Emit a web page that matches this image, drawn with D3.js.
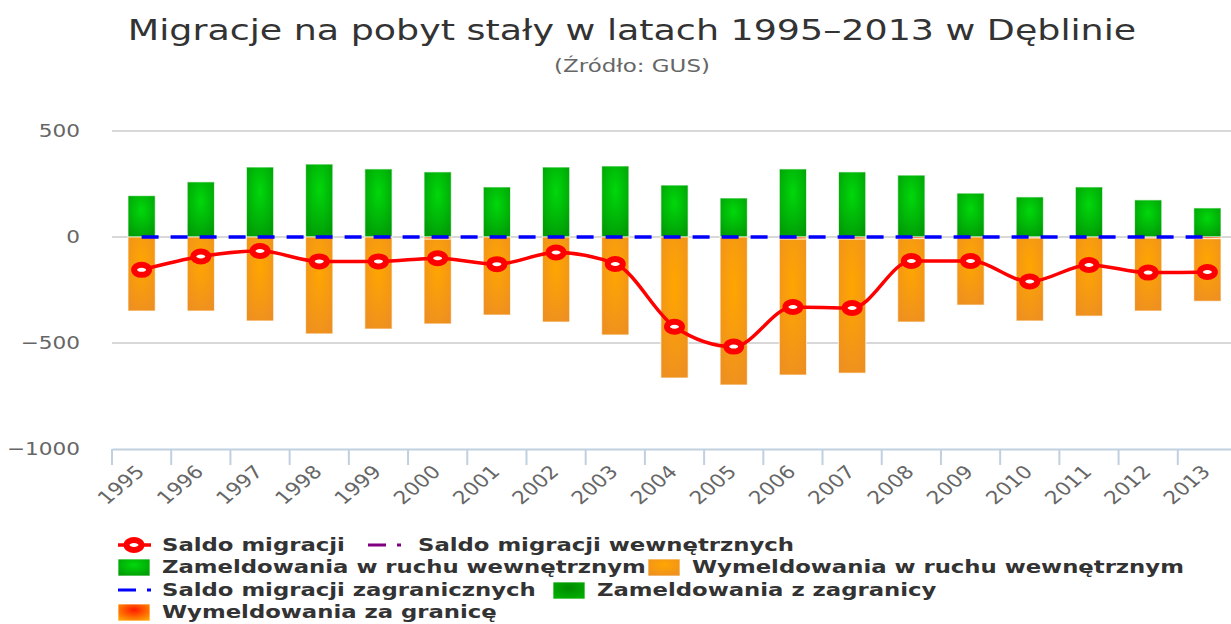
<!DOCTYPE html>
<html>
<head>
<meta charset="utf-8">
<script src="https://cdn.jsdelivr.net/npm/d3@7"></script>
<style>
  body { margin: 0; background: #fff; }
  svg { display: block; font-family: "DejaVu Sans", sans-serif; }
</style>
</head>
<body>
<div class="chart"></div>
<script>
// data
const years = ['1995','1996','1997','1998','1999','2000','2001','2002','2003','2004',
               '2005','2006','2007','2008','2009','2010','2011','2012','2013'];
const saldo = [-155,-92,-66,-115,-115,-100,-128,-73,-127,-423,-517,-330,-335,-113,-113,-210,-132,-168,-165];
const saldoWewn = [-155,-92,-66,-115,-115,-100,-128,-73,-127,-423,-517,-330,-335,-113,-113,-210,-132,-168,-165];
const zamWewn = [195,260,330,344,321,307,236,330,335,245,184,321,307,292,207,189,236,175,137];
const wymWewn = [-349,-349,-396,-457,-434,-400,-368,-401,-462,-665,-698,-641,-632,-393,-321,-391,-373,-344,-295];
const saldoZagr = [0,0,0,0,0,0,0,0,0,0,0,0,0,0,0,0,0,0,0];
const zamZagr = [0,0,0,0,0,0,0,0,0,0,0,0,0,0,0,0,0,0,0];
const wymZagr = [0,0,0,0,0,-10,0,0,0,0,0,-10,-10,-8,0,-5,0,-5,-8];
const yTicks = [500, 0, -500, -1000];

const W = 1231, H = 624;

const svg = d3.select('.chart').append('svg')
  .attr('width', W).attr('height', H);

const defs = svg.append('defs');
function radial(id, inner, outer) {
  const g = defs.append('radialGradient').attr('id', id)
    .attr('cx', '50%').attr('cy', '35%').attr('r', '70%');
  g.append('stop').attr('offset', '0%').attr('stop-color', inner);
  g.append('stop').attr('offset', '100%').attr('stop-color', outer);
}
radial('gGreen', '#00d80a', '#009c06');
radial('gOrange', '#ffa600', '#ee9020');
radial('gDark', '#008a00', '#00b000');
radial('gRed', '#ff1a00', '#ffa000');

// text stretched horizontally, like the reference picture
function label(parent, x, y, k, rot) {
  return parent.append('text')
    .attr('transform', `translate(${x},${y}) scale(${k},1)` + (rot ? ` rotate(${rot})` : ''));
}

const xScale = d3.scaleBand().domain(years).range([112, 1237]);
const yScale = d3.scaleLinear().domain([-1000, 500]).range([449, 131]);

// title
label(svg, 632, 40, 1.3)
  .attr('text-anchor', 'middle')
  .attr('font-size', 28).attr('fill', '#333')
  .text('Migracje na pobyt stały w latach 1995–2013 w Dęblinie');
label(svg, 632, 72, 1.35)
  .attr('text-anchor', 'middle')
  .attr('font-size', 17).attr('fill', '#666')
  .text('(Źródło: GUS)');

// grid
svg.append('g').selectAll('line')
  .data(yTicks.filter(d => d > -1000))
  .enter().append('line')
  .attr('x1', 112).attr('x2', W)
  .attr('y1', d => yScale(d)).attr('y2', d => yScale(d))
  .attr('stroke', '#d8d8d8').attr('stroke-width', 2);

const yLab = svg.append('g');
yTicks.forEach(t => {
  label(yLab, 80, yScale(t), 1.2)
    .attr('dy', '0.35em')
    .attr('text-anchor', 'end')
    .attr('font-size', 18).attr('fill', '#666')
    .text(d3.format('d')(t));
});

// x axis
const xAxis = d3.axisBottom(xScale).tickSize(0).tickFormat('');
svg.append('g').attr('transform', `translate(0, ${yScale(-1000)})`)
  .call(xAxis)
  .call(g => g.select('.domain').attr('stroke', '#c0d0e0').attr('stroke-width', 2));

svg.append('g').selectAll('line')
  .data(years)
  .enter().append('line')
  .attr('x1', d => xScale(d)).attr('x2', d => xScale(d))
  .attr('y1', yScale(-1000)).attr('y2', yScale(-1000) + 16)
  .attr('stroke', '#c0d0e0').attr('stroke-width', 2);

const xLab = svg.append('g');
years.forEach(y => {
  label(xLab, xScale(y) + xScale.bandwidth() / 2 + 4, 473, 1.2, -45)
    .attr('text-anchor', 'end')
    .attr('font-size', 18).attr('fill', '#666')
    .text(y);
});

// bars
const bw = xScale.bandwidth() * 0.46;
const bx = d => xScale(d) + (xScale.bandwidth() - bw) / 2;

function bars(vals, base, fill) {
  svg.append('g').selectAll('rect')
    .data(years)
    .enter().append('rect')
    .attr('x', d => bx(d))
    .attr('width', bw)
    .attr('y', (d, i) => {
      const b = base ? base[i] : 0;
      return Math.min(yScale(b), yScale(b + vals[i]));
    })
    .attr('height', (d, i) => {
      const b = base ? base[i] : 0;
      return Math.abs(yScale(b + vals[i]) - yScale(b));
    })
    .attr('fill', fill)
    .attr('stroke', 'rgba(255,255,255,0.7)').attr('stroke-width', 1);
}
bars(zamZagr, null, 'url(#gDark)');
bars(zamWewn, zamZagr, 'url(#gGreen)');
bars(wymZagr, null, 'url(#gRed)');
bars(wymWewn, wymZagr, 'url(#gOrange)');

// lines
const cx = d => xScale(d) + xScale.bandwidth() / 2;

svg.append('path')
  .datum(saldoZagr)
  .attr('fill', 'none').attr('stroke', '#0000ff').attr('stroke-width', 3.5)
  .attr('stroke-dasharray', '17,12')
  .attr('d', d3.line().x((d, i) => cx(years[i])).y(d => yScale(d)));

svg.append('path')
  .datum(saldoWewn)
  .attr('fill', 'none').attr('stroke', '#800080').attr('stroke-width', 2)
  .attr('stroke-dasharray', '12,5,3,5')
  .attr('d', d3.line().x((d, i) => cx(years[i])).y(d => yScale(d)).curve(d3.curveMonotoneX));

svg.append('path')
  .datum(saldo)
  .attr('fill', 'none').attr('stroke', '#ff0000').attr('stroke-width', 3.5)
  .attr('d', d3.line().x((d, i) => cx(years[i])).y(d => yScale(d)).curve(d3.curveMonotoneX));

svg.append('g').selectAll('ellipse')
  .data(saldo)
  .enter().append('ellipse')
  .attr('cx', (d, i) => cx(years[i]))
  .attr('cy', d => yScale(d))
  .attr('rx', 7.5).attr('ry', 5)
  .attr('fill', '#fff').attr('stroke', '#ff0000').attr('stroke-width', 6);

// legend
const legend = svg.append('g').attr('font-size', 17).attr('font-weight', 'bold').attr('fill', '#333');
const items = [
  {x: 118, y: 545, type: 'marker', label: 'Saldo migracji'},
  {x: 368, y: 545, type: 'dashdot', color: '#800080', label: 'Saldo migracji wewnętrznych'},
  {x: 118, y: 567, type: 'rect', color: 'url(#gGreen)', label: 'Zameldowania w ruchu wewnętrznym'},
  {x: 648, y: 567, type: 'rect', color: 'url(#gOrange)', label: 'Wymeldowania w ruchu wewnętrznym'},
  {x: 118, y: 590, type: 'dash', color: '#0000ff', label: 'Saldo migracji zagranicznych'},
  {x: 553, y: 590, type: 'rect', color: 'url(#gDark)', label: 'Zameldowania z zagranicy'},
  {x: 118, y: 612, type: 'rect', color: 'url(#gRed)', label: 'Wymeldowania za granicę'}
];
items.forEach(it => {
  const g = legend.append('g');
  if (it.type === 'rect') {
    g.append('rect').attr('x', it.x).attr('y', it.y - 8).attr('width', 32).attr('height', 17)
      .attr('fill', it.color).attr('stroke', 'rgba(255,255,255,0.7)');
  } else if (it.type === 'marker') {
    g.append('line').attr('x1', it.x).attr('x2', it.x + 33).attr('y1', it.y).attr('y2', it.y)
      .attr('stroke', '#ff0000').attr('stroke-width', 3.5);
    g.append('ellipse').attr('cx', it.x + 16).attr('cy', it.y).attr('rx', 7.5).attr('ry', 5)
      .attr('fill', '#fff').attr('stroke', '#ff0000').attr('stroke-width', 6);
  } else {
    g.append('line').attr('x1', it.x).attr('x2', it.x + 18).attr('y1', it.y).attr('y2', it.y)
      .attr('stroke', it.color).attr('stroke-width', 3);
    g.append('line').attr('x1', it.x + 29).attr('x2', it.x + 33).attr('y1', it.y).attr('y2', it.y)
      .attr('stroke', it.color).attr('stroke-width', 3);
  }
  const tx = it.x + 44 + (it.type === 'dashdot' ? 6 : 0);
  label(g, tx, it.y, 1.34).attr('dy', '0.35em').text(it.label);
});
</script>
</body>
</html>
